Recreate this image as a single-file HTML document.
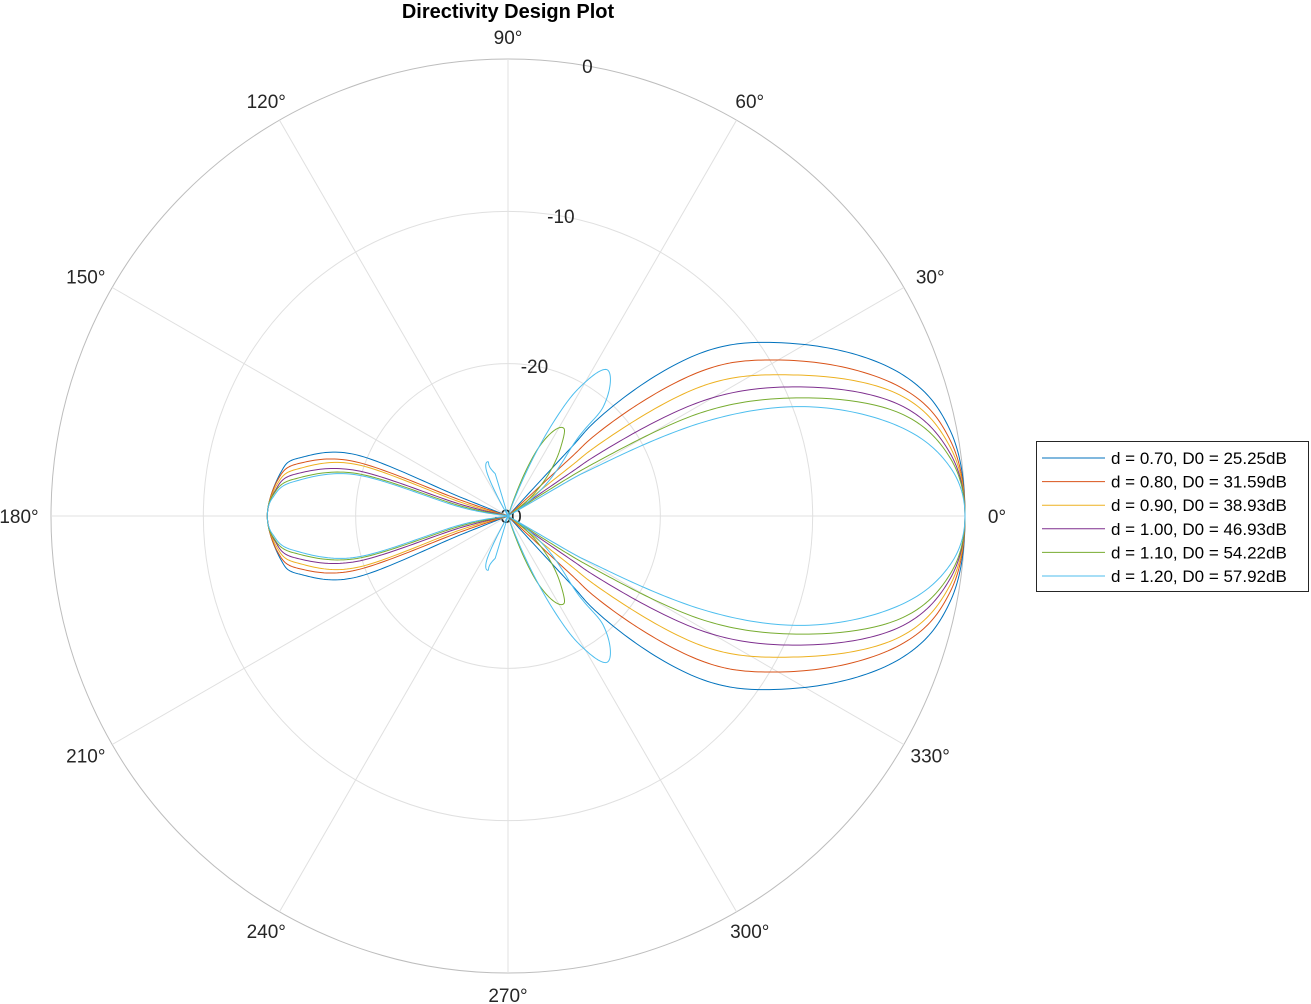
<!DOCTYPE html>
<html><head><meta charset="utf-8"><style>
html,body{margin:0;padding:0;background:#fff;}
svg{display:block;font-family:"Liberation Sans",Arial,sans-serif;}
</style></head><body>
<svg id="chart" width="1311" height="1004" viewBox="0 0 1311 1004">
<rect width="1311" height="1004" fill="#fff"/>
<text x="508" y="18" text-anchor="middle" font-size="20" font-weight="bold" fill="#000">Directivity Design Plot</text>
<g id="grid"></g>
<g id="series"></g>
<g id="legend"></g>
</svg>
<script>
// radial axis (dB)
const rTicks=[-30,-20,-10,0];
const rTickLabels=["-30","-20","-10","0"];
const thetaTicks=[0,30,60,90,120,150,180,210,240,270,300,330];
const thetaLabels=["0°","30°","60°","90°","120°","150°","180°","210°","240°","270°","300°","330°"];
const seriesNames=["d = 0.70, D0 = 25.25dB","d = 0.80, D0 = 31.59dB","d = 0.90, D0 = 38.93dB","d = 1.00, D0 = 46.93dB","d = 1.10, D0 = 54.22dB","d = 1.20, D0 = 57.92dB"];
const seriesColors=["#0072BD","#D95319","#EDB120","#7E2F8E","#77AC30","#4DBEEE"];
// traced upper-half contours (angle deg, dB), mirrored for lower half
const angD07=[0,11.0,20.0,31.5,40.3,47.0,47.3,47.5, 158.4,158.0,164.4,169.3,180];
const dbD07=[0,-0.44,-2.6,-8.3,-13.5,-21.0,-24.1,-30, -26.6,-19.3,-15.8,-14.8,-14.2];
const angD08=[0,9.8,18.2,29.8,36.9,42.6,42.9,43, 161.5,160.4,166.0,171.1,180];
const dbD08=[0,-0.56,-2.9,-9.4,-14.2,-21.7,-24.5,-30, -26.7,-19.4,-15.8,-14.7,-14.2];
const angD09=[0,8.9,17.2,26.3,33.9,38.2,38.4,38.5, 163.7,161.2,167.5,172.2,180];
const dbD09=[0,-0.63,-3.1,-9.1,-14.8,-22.3,-24.9,-30, -26.7,-19.5,-15.8,-14.7,-14.2];
const angD10=[0,8.1,15.8,23.8,30.7,34.4,34.7,35, 166.1,163.3,169.0,174.0,180];
const dbD10=[0,-0.69,-3.25,-9.0,-15.3,-22.7,-25.0,-30, -26.7,-19.6,-15.7,-14.6,-14.2];
const angD11=[0,7.5,14.7,22.0,28.2,31.3,32.2,33, 51.8,58.8,66.3,72, 168.0,164.3,170.3,175.0,180];
const dbD11=[0,-0.73,-3.4,-9.3,-15.7,-22.9,-25.2,-30, -24.5,-23.2,-25.3,-30, -26.8,-19.7,-15.7,-14.5,-14.2];
const angD12=[0,6.3,12.8,20.5,25.8,29.0,30.1,30, 46.8,48.9,55.6,60.8,64.2,70, 106.8,110.3,116.0,120, 169.4,164.8,171.0,175.6,180];
const dbD12=[0,-0.8,-3.6,-9.5,-16.0,-23.1,-25.3,-30, -24.1,-20.5,-18.4,-20.3,-23.2,-30, -27.1,-26.2,-26.9,-30, -26.8,-19.7,-15.7,-14.5,-14.2];
const seriesAng=[angD07,angD08,angD09,angD10,angD11,angD12];
const seriesDb=[dbD07,dbD08,dbD09,dbD10,dbD11,dbD12];

const NS="http://www.w3.org/2000/svg";
const CX=508, CY=516, R=457, RMIN=-30, RMAX=0;
function rScale(db){return Math.max(0,(db-RMIN)/(RMAX-RMIN))*R;}
function pt(deg,db){const a=deg*Math.PI/180,r=rScale(db);return [CX+r*Math.cos(a),CY-r*Math.sin(a)];}
function mk(tag,attrs,parent){const e=document.createElementNS(NS,tag);for(const k in attrs)e.setAttribute(k,attrs[k]);parent.appendChild(e);return e;}

const grid=document.getElementById('grid');
rTicks.forEach((t,i)=>{
  if(t===RMIN) return;
  const c=mk('circle',{cx:CX,cy:CY,r:rScale(t),fill:'none',stroke:t===RMAX?'#bdbdbd':'#e0e0e0','stroke-width':1},grid);
  
  
});
thetaTicks.forEach((t,i)=>{
  const p=pt(t,RMAX);
  const l=mk('line',{x1:CX,y1:CY,x2:p[0],y2:p[1],stroke:'#e0e0e0','stroke-width':1},grid);
  
  
  const a=t*Math.PI/180;
  const rx=R+21+11*Math.abs(Math.cos(a)), ry=R+22;
  const tx=mk('text',{x:CX+rx*Math.cos(a),y:CY-ry*Math.sin(a)+7,'text-anchor':'middle','font-size':19,fill:'#262626'},grid);
  tx.textContent=thetaLabels[i];
  
  
});
rTicks.forEach((t,i)=>{
  const a=80*Math.PI/180, r=rScale(t);
  const tx=mk('text',{x:CX+r*Math.cos(a),y:CY-r*Math.sin(a)+7,'text-anchor':'middle','font-size':19,fill:'#262626'},grid);
  tx.textContent=rTickLabels[i];
  
  
});

function cr4(v,t){const t2=t*t,t3=t2*t;return 0.5*((2*v[1])+(-v[0]+v[2])*t+(2*v[0]-5*v[1]+4*v[2]-v[3])*t2+(-v[0]+3*v[1]-3*v[2]+v[3])*t3);}
function splineRun(runIn,out){
  const run=[runIn[0].slice()];
  for(let i=1;i<runIn.length;i++){
    let a=runIn[i][0];const prev=run[i-1][0];
    while(a-prev>180)a-=360;while(a-prev<-180)a+=360;
    run.push([a,runIn[i][1]]);
  }
  const m=run.length;
  const back=run.some(q=>Math.abs(((q[0]%360)+360)%360-180)<1);
  if(back){
    // back lobe: smooth in cartesian space
    const P=run.map(q=>pt(q[0],q[1]));
    const g=k=>P[Math.max(0,Math.min(m-1,k))];
    for(let i=0;i<m-1;i++){
      const p0=g(i-1),p1=g(i),p2=g(i+1),p3=g(i+2);
      for(let k=0;k<24;k++){const t=k/24;out.push([cr4([p0[0],p1[0],p2[0],p3[0]],t),cr4([p0[1],p1[1],p2[1],p3[1]],t)]);}
    }
    out.push(P[m-1]);
    return;
  }
  const g=k=>run[Math.max(0,Math.min(m-1,k))];
  for(let i=0;i<m-1;i++){
    const p0=g(i-1),p1=g(i),p2=g(i+1),p3=g(i+2);
    const gap=Math.abs(p2[0]-p1[0]);
    if((p1[1]<=RMIN||p2[1]<=RMIN)&&gap>20){out.push(pt(p1[0],p1[1]));continue;}
    const A=[p0[0],p1[0],p2[0],p3[0]],B=[p0[1],p1[1],p2[1],p3[1]];
    for(let k=0;k<24;k++){const t=k/24;out.push(pt(cr4(A,t),Math.min(0,cr4(B,t))));}
  }
  out.push(pt(run[m-1][0],run[m-1][1]));
}

const sg=document.getElementById('series');
seriesAng.forEach((angs,s)=>{
  const dbs=seriesDb[s];
  let Q=angs.map((a,i)=>[a,dbs[i]]);
  for(let i=angs.length-2;i>=1;i--) Q.push([360-angs[i],dbs[i]]);
  const f=Q.findIndex(q=>q[1]<=RMIN);
  Q=Q.slice(f).concat(Q.slice(0,f));
  Q.push(Q[0]);
  const pts=[];
  let run=[];
  Q.forEach(q=>{
    run.push(q);
    if(q[1]<=RMIN&&run.length>1){splineRun(run,pts);run=[q];}
  });
  if(run.length>1) splineRun(run,pts);
  const d='M'+pts.map(p=>p[0].toFixed(2)+','+p[1].toFixed(2)).join(' L');
  const path=mk('path',{d:d,fill:'none',stroke:seriesColors[s],'stroke-width':1,'stroke-linejoin':'round'},sg);
  
  
});

const lg=document.getElementById('legend');
const box=mk('rect',{x:1036.5,y:441.5,width:272,height:150,fill:'#fff',stroke:'#262626','stroke-width':1},lg);


seriesNames.forEach((nm,i)=>{
  const y=458+i*23.6;
  const ln=mk('line',{x1:1042,y1:y,x2:1105,y2:y,stroke:seriesColors[i],'stroke-width':1},lg);
  
  
  const tx=mk('text',{x:1111,y:y+6,'font-size':17,fill:'#000'},lg);
  tx.textContent=nm;
  
  
});
</script>
</body></html>
